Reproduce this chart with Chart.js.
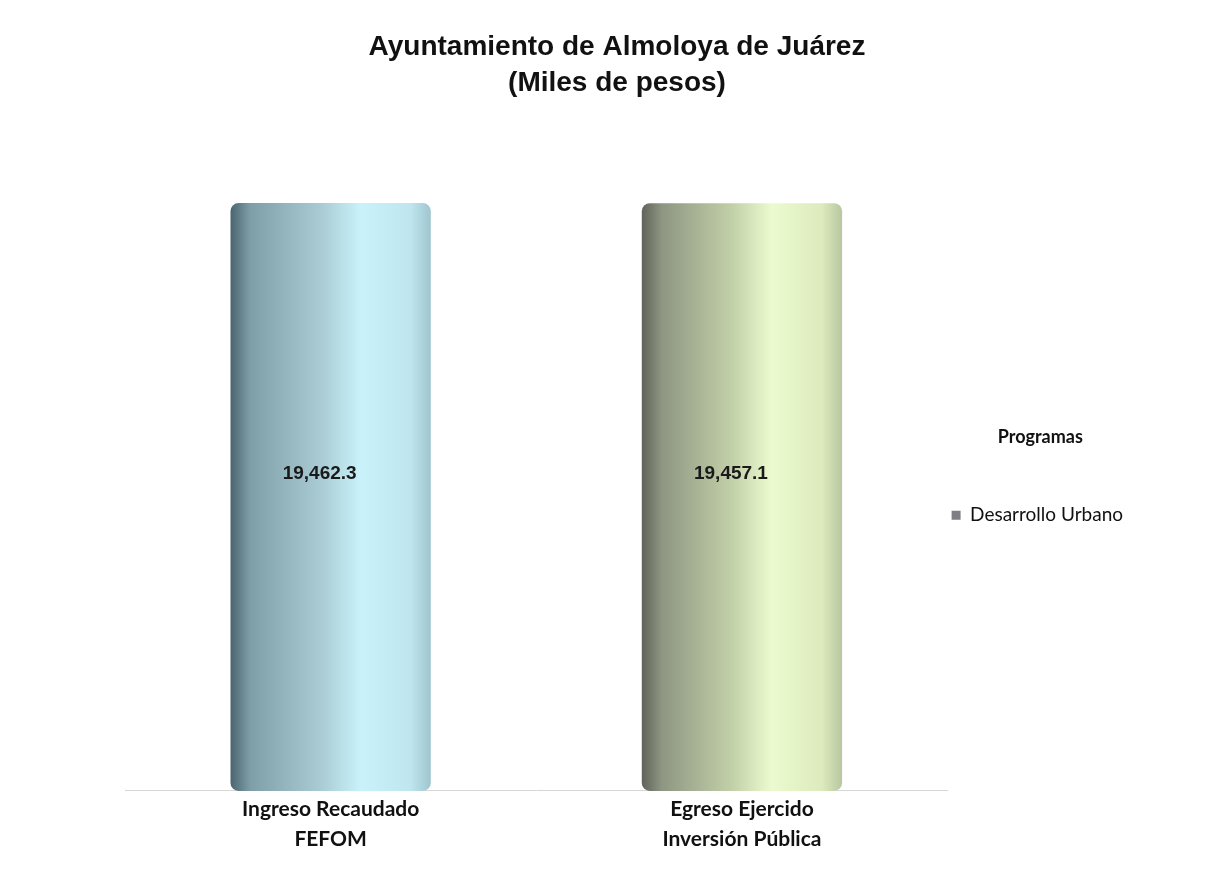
<!DOCTYPE html>
<html>
<head>
<meta charset="utf-8">
<script src="https://cdn.jsdelivr.net/npm/chart.js@4/dist/chart.umd.min.js"></script>
<style>
  html, body { margin: 0; padding: 0; background: #fff; }
  #wrap { width: 1206px; height: 881px; }
</style>
</head>
<body>
<div id="wrap"><canvas id="fondosChart"></canvas></div>
<script>
// categories (two-line labels) and values, miles de pesos
var categorias = [["Ingreso Recaudado", "FEFOM"], ["Egreso Ejercido", "Inversión Pública"]];
var valores = [19462.3, 19457.1];
var serie = "Desarrollo Urbano";

// colour stops for each cylinder: dark edge -> light centre -> soft edge
var tonos = [
  ["#4a6570", "#7f9fa8", "#a9cbd3", "#c9f2fa", "#bfe6ee", "#9fc6cf"],
  ["#5f6359", "#8e9682", "#c2d0a8", "#ecfbcf", "#dceabd", "#b9c7a0"]
];

function cilindro(ctx) {
  var chart = ctx.chart;
  var t = tonos[ctx.dataIndex % 2];
  var el = chart.getDatasetMeta(0).data[ctx.dataIndex];
  if (!el || !isFinite(el.x) || !isFinite(el.width)) return t[3];
  var x0 = el.x - el.width / 2, x1 = el.x + el.width / 2;
  var g = chart.ctx.createLinearGradient(x0, 0, x1, 0);
  g.addColorStop(0, t[0]);
  g.addColorStop(0.1, t[1]);
  g.addColorStop(0.45, t[2]);
  g.addColorStop(0.65, t[3]);
  g.addColorStop(0.9, t[4]);
  g.addColorStop(1, t[5]);
  return g;
}

// value label drawn in the middle of each bar
var etiquetas = {
  id: "etiquetas",
  afterDatasetsDraw: function (chart) {
    var c = chart.ctx;
    var meta = chart.getDatasetMeta(0);
    c.save();
    c.font = "bold 19px 'Liberation Sans Narrow', 'Arial Narrow', sans-serif";
    c.fillStyle = "#1a1a1a";
    c.textAlign = "center";
    c.textBaseline = "middle";
    meta.data.forEach(function (bar, i) {
      var txt = valores[i].toLocaleString("en-US", { minimumFractionDigits: 1, maximumFractionDigits: 1 });
      c.fillText(txt, bar.x - 11, (bar.y + bar.base) / 2 - 23);
    });
    c.restore();
  },
  // second pass so the gradient sees the final bar geometry
  afterLayout: function (chart) {
    if (!chart.$pintado) { chart.$pintado = true; setTimeout(function () { chart.update("none"); }, 0); }
  }
};

var ctx = document.getElementById("fondosChart").getContext("2d");
new Chart(ctx, {
  type: "bar",
  data: {
    labels: categorias,
    datasets: [{
      label: serie,
      data: valores,
      backgroundColor: cilindro,
      borderRadius: 8,
      borderSkipped: false,
      barPercentage: 0.487,
      categoryPercentage: 1
    }]
  },
  options: {
    responsive: true,
    maintainAspectRatio: false,
    animation: false,
    layout: { padding: { left: 101, right: 73, top: 0, bottom: 24 } },
    plugins: {
      title: {
        display: true,
        text: ["Ayuntamiento de Almoloya de Juárez", "(Miles de pesos)"],
        color: "#111",
        font: { family: "'Liberation Sans', Arial, sans-serif", size: 28, weight: "bold", lineHeight: 1.3 },
        padding: { top: 29, bottom: 85 }
      },
      legend: {
        position: "right",
        align: "center",
        title: {
          display: true,
          text: "Programas",
          color: "#111",
          font: { family: "Lato, 'Open Sans', sans-serif", size: 18, weight: "bold" },
          padding: { top: 100, bottom: 52 }
        },
        labels: {
          color: "#222",
          font: { family: "Lato, 'Open Sans', sans-serif", size: 19 },
          boxWidth: 9,
          boxHeight: 9,
          padding: 4,
          generateLabels: function (chart) {
            return [{ text: serie, fillStyle: "#7d7f84", strokeStyle: "#7d7f84", lineWidth: 0, datasetIndex: 0 }];
          }
        }
      },
      tooltip: { enabled: false }
    },
    scales: {
      x: {
        grid: { display: false, drawTicks: false },
        border: { display: true, color: "#d6d6d6", width: 1 },
        ticks: {
          color: "#111",
          padding: 3,
          font: { family: "Lato, 'Open Sans', sans-serif", size: 21, weight: "bold", lineHeight: 1.43 }
        }
      },
      y: {
        display: true,
        min: 0,
        max: 20000,
        grid: { display: false, drawTicks: false },
        border: { display: false },
        ticks: { display: false },
        // empty strip on the left, keeps the title centred on the page
        afterFit: function (scale) { scale.width = 24; }
      }
    }
  },
  plugins: [etiquetas]
});
</script>
</body>
</html>
